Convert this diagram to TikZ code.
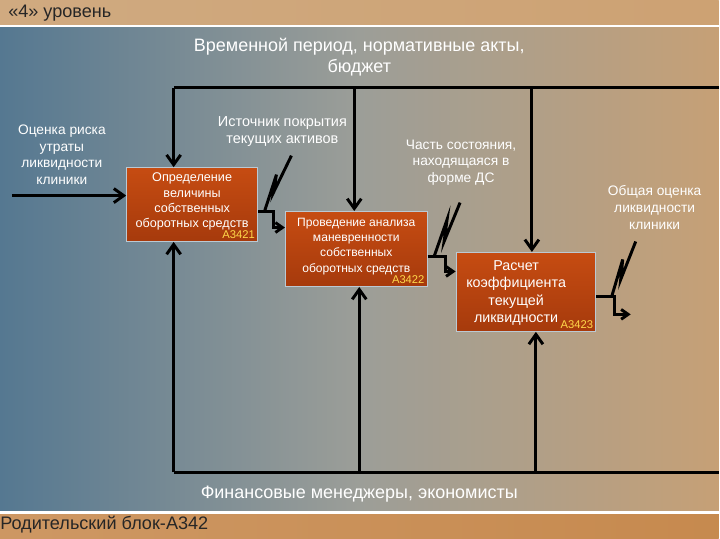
\documentclass[tikz,border=0pt]{standalone}
\usepackage{fontspec}
\setmainfont{Liberation Sans}
\usepackage{xcolor}
\usetikzlibrary{arrows.meta,positioning}

\definecolor{bgleft}{HTML}{557891}
\definecolor{bgmid}{HTML}{9C9E98}
\definecolor{bgright}{HTML}{C6A076}
\definecolor{bandtan}{HTML}{D0AA80}
\definecolor{bandorange}{HTML}{C88C52}
\definecolor{boxtop}{HTML}{C64C12}
\definecolor{boxbot}{HTML}{A63A0C}
\definecolor{idyellow}{HTML}{FFD84A}

\begin{document}
\begin{tikzpicture}[
	x=0.025cm, y=-0.025cm,
	font=\fontsize{9.8}{12}\selectfont,
	% Node styles
	procbox/.style={
		rectangle, draw=white!60!bgleft, line width=0.6pt,
		top color=boxtop, bottom color=boxbot, inner sep=0pt
	},
	boxtxt/.style={text=white, align=center, inner sep=1pt},
	boxid/.style={
		anchor=south east, inner sep=2pt,
		text=idyellow, font=\fontsize{8}{9}\selectfont
	},
	lbl/.style={text=white, align=center, inner sep=1pt},
	band/.style={text=black!85, font=\fontsize{12.9}{14}\selectfont, inner sep=0pt},
	arr/.style={-{Straight Barb[length=7pt,width=10pt]}, line width=2.1pt, black},
	oarr/.style={-{Straight Barb[length=5pt,width=7pt]}, line width=2.1pt, black},
	line/.style={line width=2.1pt, black},
	squig/.style={line width=2.1pt, black, line join=miter}
	]
	
	%% ─── BACKGROUND ──────────────────────────────────────────────────────────
	\shade[left color=bgleft, right color=bgright, middle color=bgmid]
	(0,0) rectangle (720,540);
	\shade[left color=bandtan, right color=bandtan!80!brown] (0,0) rectangle (720,25);
	\fill[white] (0,25) rectangle (720,27.5);
	\shade[left color=bandorange!90!white, right color=bandorange!80!brown] (0,515) rectangle (720,540);
	\fill[white] (0,512) rectangle (720,515);
	
	\node[band, anchor=west] (level) at (8,13) {«4» уровень};
	\node[band, anchor=west] (parent) at (0,526) {Родительский блок-A342};
	
	%% ─── PROCESS BOXES ───────────────────────────────────────────────────────
	\node[procbox, minimum width=3.28cm, minimum height=1.85cm] (b1) at (192.5,205) {};
	\node[boxtxt, font=\fontsize{9}{10.8}\selectfont] (b1t) at ([yshift=2.2pt]b1.center)
	{Определение\\величины\\собственных\\оборотных средств};
	\node[boxid] (b1id) at (b1.south east) {A3421};
	
	\node[procbox, minimum width=3.55cm, minimum height=1.88cm] (b2) at (357,249.5) {};
	\node[boxtxt, font=\fontsize{8.6}{10.8}\selectfont] (b2t) at ([yshift=1.8pt]b2.center)
	{Проведение анализа\\маневренности\\собственных\\оборотных средств};
	\node[boxid] (b2id) at (b2.south east) {A3422};
	
	\node[procbox, minimum width=3.5cm, minimum height=1.98cm] (b3) at (527,292.5) {};
	\node[boxtxt, font=\fontsize{10.2}{12.5}\selectfont] (b3t) at ([xshift=-7pt,yshift=-0.8pt]b3.center)
	{Расчет\\коэффициента\\текущей\\ликвидности};
	\node[boxid] (b3id) at (b3.south east) {A3423};
	
	%% ─── CONTROLS ────────────────────────────────────────────────────────────
	\node[lbl, font=\fontsize{12.8}{15}\selectfont] (ctllbl) at (360,57)
	{Временной период, нормативные акты,\\бюджет};
	\coordinate (c1) at (174,88);
	\coordinate (c2) at (355,88);
	\coordinate (c3) at (533,88);
	\coordinate (cr) at (720,88);
	\draw[line] (cr) -- (c1);
	\draw[arr] (c1) -- (c1 |- b1.north);
	\draw[arr] (c2) -- (c2 |- b2.north);
	\draw[arr] (c3) -- (c3 |- b3.north);
	
	%% ─── INPUT ───────────────────────────────────────────────────────────────
	\node[lbl] (inlbl) at (62,155) {Оценка риска\\утраты\\ликвидности\\клиники};
	\coordinate (in1) at (12,196);
	\draw[arr] (in1) -- (in1 -| b1.west);
	
	%% ─── OUTPUTS ─────────────────────────────────────────────────────────────
	\node[lbl, font=\fontsize{10.3}{12}\selectfont] (o1lbl) at (283,132) {Источник покрытия\\текущих активов};
	\coordinate (o1a) at (274,212);
	\coordinate (o1b) at (274,228);
	\draw[oarr] (o1a -| b1.east) -- (o1a) -- (o1b) -- (o1b -| b2.west);
	\draw[squig] (292,156) -- (274,193) -- (277,175) -- (265,212);
	
	\node[lbl] (o2lbl) at (462,163) {Часть состояния,\\находящаяся в\\форме ДС};
	\coordinate (o2a) at (446,257);
	\coordinate (o2b) at (446,272);
	\draw[oarr] (o2a -| b2.east) -- (o2a) -- (o2b) -- (o2b -| b3.west);
	\draw[squig] (461,203) -- (445,242) -- (448,220) -- (435,257);
	
	\node[lbl] (o3lbl) at (656,208) {Общая оценка\\ликвидности\\клиники};
	\coordinate (o3a) at (616,297);
	\coordinate (o3b) at (616,315);
	\coordinate (o3e) at (632,315);
	\draw[oarr] (o3a -| b3.east) -- (o3a) -- (o3b) -- (o3e);
	\draw[squig] (637,242) -- (622,280) -- (624,260) -- (613,297);
	
	%% ─── MECHANISMS ──────────────────────────────────────────────────────────
	\node[lbl, font=\fontsize{12.8}{14}\selectfont] (mechlbl) at (360,495)
	{Финансовые менеджеры, экономисты};
	\coordinate (m1) at (174,473);
	\coordinate (m2) at (360,473);
	\coordinate (m3) at (537,473);
	\coordinate (mr) at (720,473);
	\draw[line] (mr) -- (m1);
	\draw[arr] (m1) -- (m1 |- b1.south);
	\draw[arr] (m2) -- (m2 |- b2.south);
	\draw[arr] (m3) -- (m3 |- b3.south);
	
\end{tikzpicture}
\end{document}
